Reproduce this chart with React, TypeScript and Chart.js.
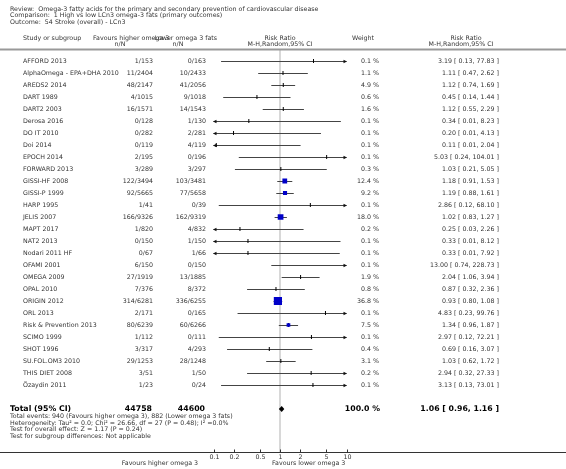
import React, { useEffect, useRef } from "react";
import { Chart, registerables } from "chart.js";

Chart.register(...registerables);

const studies = [
  "AFFORD 2013", "AlphaOmega - EPA+DHA 2010", "AREDS2 2014", "DART 1989", "DART2 2003",
  "Derosa 2016", "DO IT 2010", "Doi 2014", "EPOCH 2014", "FORWARD 2013",
  "GISSI-HF 2008", "GISSI-P 1999", "HARP 1995", "JELIS 2007", "MAPT 2017",
  "NAT2 2013", "Nodari 2011 HF", "OFAMI 2001", "OMEGA 2009", "OPAL 2010",
  "ORIGIN 2012", "ORL 2013", "Risk & Prevention 2013", "SCIMO 1999", "SHOT 1996",
  "SU.FOL.OM3 2010", "THIS DIET 2008", "Özaydin 2011",
];
const eventsHigh = [1, 11, 48, 4, 16, 0, 0, 0, 2, 3, 122, 92, 1, 166, 1, 0, 0, 6, 27, 7, 314, 2, 80, 1, 3, 29, 3, 1];
const totalHigh = [153, 2404, 2147, 1015, 1571, 128, 282, 119, 195, 289, 3494, 5665, 41, 9326, 820, 150, 67, 150, 1919, 376, 6281, 171, 6239, 112, 317, 1253, 51, 23];
const eventsLow = [0, 10, 41, 9, 14, 1, 2, 4, 0, 3, 103, 77, 0, 162, 4, 1, 1, 0, 13, 8, 336, 0, 60, 0, 4, 28, 1, 0];
const totalLow = [163, 2433, 2056, 1018, 1543, 130, 281, 119, 196, 297, 3481, 5658, 39, 9319, 832, 150, 66, 150, 1885, 372, 6255, 165, 6266, 111, 293, 1248, 50, 24];
const weights = [0.1, 1.1, 4.9, 0.6, 1.6, 0.1, 0.1, 0.1, 0.1, 0.3, 12.4, 9.2, 0.1, 18.0, 0.2, 0.1, 0.1, 0.1, 1.9, 0.8, 36.8, 0.1, 7.5, 0.1, 0.4, 3.1, 0.2, 0.1];
const riskRatios = [3.19, 1.11, 1.12, 0.45, 1.12, 0.34, 0.20, 0.11, 5.03, 1.03, 1.18, 1.19, 2.86, 1.02, 0.25, 0.33, 0.33, 13.00, 2.04, 0.87, 0.93, 4.83, 1.34, 2.97, 0.69, 1.03, 2.94, 3.13];
const ciLower = [0.13, 0.47, 0.74, 0.14, 0.55, 0.01, 0.01, 0.01, 0.24, 0.21, 0.91, 0.88, 0.12, 0.83, 0.03, 0.01, 0.01, 0.74, 1.06, 0.32, 0.80, 0.23, 0.96, 0.12, 0.16, 0.62, 0.32, 0.13];
const ciUpper = [77.83, 2.62, 1.69, 1.44, 2.29, 8.23, 4.13, 2.04, 104.01, 5.05, 1.53, 1.61, 68.10, 1.27, 2.26, 8.12, 7.92, 228.73, 3.94, 2.36, 1.08, 99.76, 1.87, 72.21, 3.07, 1.72, 27.33, 73.01];

const totalLabel = "Total (95% CI)";
const totalHighN = 44758;
const totalLowN = 44600;
const totalWeight = 100.0;
const totalRR = 1.06;
const totalLower = 0.96;
const totalUpper = 1.16;

const axisTicks = [0.1, 0.2, 0.5, 1, 2, 5, 10];
const axisMin = 0.1;
const axisMax = 10;

const headerLines = [
  "Review:  Omega-3 fatty acids for the primary and secondary prevention of cardiovascular disease",
  "Comparison:  1 High vs low LCn3 omega-3 fats (primary outcomes)",
  "Outcome:  54 Stroke (overall) - LCn3",
];
const footnoteLines = [
  "Total events: 940 (Favours higher omega 3), 882 (Lower omega 3 fats)",
  "Heterogeneity: Tau² = 0.0; Chi² = 26.66, df = 27 (P = 0.48); I² =0.0%",
  "Test for overall effect: Z = 1.17 (P = 0.24)",
  "Test for subgroup differences: Not applicable",
];
const leftFavour = "Favours higher omega 3";
const rightFavour = "Favours lower omega 3";

const TOTAL_ROW = 29;
const BLUE = "#0000c8";
const FONT = "DejaVu Sans";
const SMALL = `6.3px "${FONT}"`;
const BOLD = `bold 7.8px "${FONT}"`;
const TEXT = "#333";

const fmtRR = (r: number, l: number, u: number) => `${r.toFixed(2)} [ ${l.toFixed(2)}, ${u.toFixed(2)} ]`;

const forestPlugin = {
  id: "forest",
  beforeDatasetsDraw(chart: any) {
    const { ctx, scales } = chart;
    const xs = scales.x;
    const ys = scales.y;
    const area = chart.chartArea;
    ctx.save();
    // line of no effect
    const x1 = xs.getPixelForValue(1);
    ctx.strokeStyle = "#d8d8d8";
    ctx.lineWidth = 2;
    ctx.beginPath();
    ctx.moveTo(x1, area.top + 1);
    ctx.lineTo(x1, area.bottom);
    ctx.stroke();
    // CIs
    ctx.strokeStyle = "#444";
    ctx.fillStyle = "#111";
    ctx.lineWidth = 1;
    studies.forEach((_, i) => {
      const y = Math.round(ys.getPixelForValue(i)) + 0.5;
      const lo = Math.max(ciLower[i], axisMin);
      const hi = Math.min(ciUpper[i], axisMax);
      const xa = xs.getPixelForValue(lo);
      const xb = xs.getPixelForValue(hi);
      ctx.beginPath();
      ctx.moveTo(xa, y);
      ctx.lineTo(xb, y);
      ctx.stroke();
      if (ciLower[i] < axisMin) {
        ctx.beginPath();
        ctx.moveTo(xa - 0.5, y);
        ctx.lineTo(xa + 3, y - 1.7);
        ctx.lineTo(xa + 3, y + 1.7);
        ctx.closePath();
        ctx.fill();
      }
      if (ciUpper[i] > axisMax) {
        ctx.beginPath();
        ctx.moveTo(xb + 0.5, y);
        ctx.lineTo(xb - 3, y - 1.7);
        ctx.lineTo(xb - 3, y + 1.7);
        ctx.closePath();
        ctx.fill();
      }
    });
    // total diamond
    const yt = ys.getPixelForValue(TOTAL_ROW);
    ctx.fillStyle = "#000";
    ctx.beginPath();
    ctx.moveTo(xs.getPixelForValue(totalLower), yt);
    ctx.lineTo(xs.getPixelForValue(totalRR), yt - 3);
    ctx.lineTo(xs.getPixelForValue(totalUpper), yt);
    ctx.lineTo(xs.getPixelForValue(totalRR), yt + 3);
    ctx.closePath();
    ctx.fill();
    ctx.restore();
  },
  afterDraw(chart: any) {
    const { ctx, scales } = chart;
    const xs = scales.x;
    const ys = scales.y;
    const W = chart.width;
    const area = chart.chartArea;
    ctx.save();
    ctx.textBaseline = "middle";
    ctx.fillStyle = TEXT;
    ctx.font = SMALL;
    // header
    ctx.textAlign = "left";
    headerLines.forEach((t, k) => ctx.fillText(t, 10, 9 + k * 6.8));
    ctx.fillText("Study or subgroup", 23, 38);
    ctx.fillText(leftFavour, 93, 38);
    ctx.textAlign = "right";
    ctx.fillText("Lower omega 3 fats", 217, 38);
    ctx.textAlign = "center";
    ctx.fillText("n/N", 120, 44);
    ctx.fillText("n/N", 178, 44);
    const xc = xs.getPixelForValue(1);
    ctx.fillText("Risk Ratio", xc, 38);
    ctx.fillText("M-H,Random,95% CI", xc, 44);
    ctx.fillText("Weight", 363, 38);
    ctx.fillText("Risk Ratio", 466, 38);
    ctx.fillText("M-H,Random,95% CI", 461, 44);
    // header rule
    ctx.strokeStyle = "#999";
    ctx.lineWidth = 2;
    ctx.beginPath();
    ctx.moveTo(0, 49.5);
    ctx.lineTo(W, 49.5);
    ctx.stroke();
    // rows
    studies.forEach((s, i) => {
      const y = ys.getPixelForValue(i);
      ctx.textAlign = "left";
      ctx.fillText(s, 23, y);
      ctx.textAlign = "right";
      ctx.fillText(`${eventsHigh[i]}/${totalHigh[i]}`, 153, y);
      ctx.fillText(`${eventsLow[i]}/${totalLow[i]}`, 206, y);
      ctx.fillText(`${weights[i].toFixed(1)} %`, 379, y);
      ctx.fillText(fmtRR(riskRatios[i], ciLower[i], ciUpper[i]), 499, y);
    });
    // total row
    const yt = ys.getPixelForValue(TOTAL_ROW);
    ctx.fillStyle = "#000";
    ctx.font = BOLD;
    ctx.textAlign = "left";
    ctx.fillText(totalLabel, 10, yt);
    ctx.textAlign = "right";
    ctx.fillText(String(totalHighN), 152, yt);
    ctx.fillText(String(totalLowN), 205, yt);
    ctx.fillText(`${totalWeight.toFixed(1)} %`, 380, yt);
    ctx.fillText(fmtRR(totalRR, totalLower, totalUpper), 499, yt);
    ctx.fillStyle = TEXT;
    ctx.font = SMALL;
    ctx.textAlign = "left";
    footnoteLines.forEach((t, k) => ctx.fillText(t, 10, yt + 7.5 + k * 6.6));
    // axis
    const ya = area.bottom + 0.5;
    ctx.strokeStyle = "#333";
    ctx.lineWidth = 1;
    ctx.beginPath();
    ctx.moveTo(0, ya);
    ctx.lineTo(W, ya);
    ctx.stroke();
    ctx.textAlign = "center";
    axisTicks.forEach((t) => {
      const x = Math.round(xs.getPixelForValue(t)) + 0.5;
      ctx.beginPath();
      ctx.moveTo(x, ya);
      ctx.lineTo(x, ya - 3);
      ctx.stroke();
      ctx.fillText(String(t), x, ya + 4.5);
    });
    ctx.textAlign = "right";
    ctx.fillText(leftFavour, 198, ya + 10.5);
    ctx.textAlign = "left";
    ctx.fillText(rightFavour, 272, ya + 10.5);
    ctx.restore();
  },
};

export default function App() {
  const ref = useRef<HTMLCanvasElement | null>(null);
  useEffect(() => {
    if (!ref.current) return;
    const bigIdx = studies.map((_, i) => i).filter((i) => weights[i] >= 5);
    const chart = new Chart(ref.current, {
      type: "scatter",
      data: {
        datasets: [
          {
            label: "weighted",
            data: bigIdx.map((i) => ({ x: riskRatios[i], y: i })),
            pointStyle: "rect",
            pointRadius: bigIdx.map((i) => (1.35 * Math.sqrt(weights[i])) / 1.4142),
            pointHoverRadius: bigIdx.map((i) => (1.35 * Math.sqrt(weights[i])) / 1.4142),
            backgroundColor: BLUE,
            borderColor: BLUE,
            borderWidth: 0,
            clip: 0,
          } as any,
          {
            label: "estimates",
            data: studies.map((_, i) => ({ x: riskRatios[i], y: i })),
            pointStyle: "line",
            pointRotation: 90,
            pointRadius: 2,
            pointHoverRadius: 2,
            borderColor: "#000",
            borderWidth: 1,
            clip: 0,
          } as any,
        ],
      },
      options: {
        responsive: false,
        animation: false,
        devicePixelRatio: 1,
        events: [],
        layout: { padding: { left: 213.5, right: 219.5, top: 49, bottom: 17 } },
        scales: {
          x: { type: "logarithmic", min: axisMin, max: axisMax, display: false },
          y: { type: "linear", min: -1, max: -1 + 403 / 12, reverse: true, display: false },
        },
        plugins: { legend: { display: false }, tooltip: { enabled: false } },
      },
      plugins: [forestPlugin],
    });
    return () => chart.destroy();
  }, []);
  return (
    <div style={{ position: "fixed", left: 0, top: 0, width: 566, height: 469, background: "#fff" }}>
      <canvas ref={ref} width={566} height={469} style={{ width: 566, height: 469 }} />
    </div>
  );
}
